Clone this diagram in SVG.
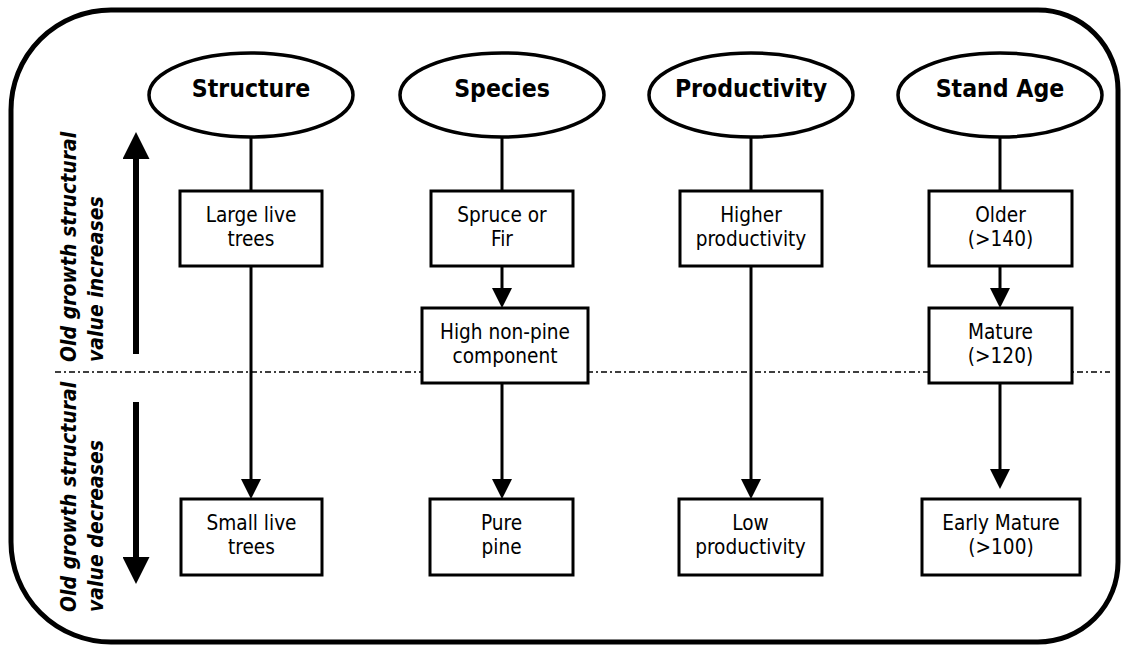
<svg xmlns="http://www.w3.org/2000/svg" width="1123" height="648" viewBox="0 0 1123 648">
<defs>
<style>
.t{font-family:'DejaVu Sans Condensed','DejaVu Sans',sans-serif;fill:#000}
.lab{font-size:24.6px;font-weight:bold;text-anchor:middle}
.box{font-size:20.6px;text-anchor:middle}
.side{font-size:21px;font-weight:bold;font-style:italic}
.ell{fill:#fff;stroke:#000;stroke-width:3.5}
.rb{fill:#fff;stroke:#000;stroke-width:3}
.ln{stroke:#000;stroke-width:3;fill:none}
.big{stroke:#000;stroke-width:6;fill:none}
</style>
<marker id="ah" markerUnits="userSpaceOnUse" viewBox="0 0 20 20" markerWidth="20" markerHeight="20" refX="1" refY="10" orient="auto">
<path d="M0,0 L20,10 L0,20 Z" fill="#000"/>
</marker>
<marker id="bh" markerUnits="userSpaceOnUse" viewBox="0 0 27 27" markerWidth="27" markerHeight="27" refX="1" refY="13.5" orient="auto">
<path d="M0,0 L27,13.5 L0,27 Z" fill="#000"/>
</marker>
</defs>
<rect width="1123" height="648" fill="#fff"/>
<path d="M111,10 H1038 A80,80 0 0 1 1118,90 V562 A80,80 0 0 1 1038,642 H111 A100,100 0 0 1 11,542 V110 A100,100 0 0 1 111,10 Z" fill="none" stroke="#000" stroke-width="5"/>

<g id="divider">
<line x1="55" y1="372" x2="1110" y2="372" stroke="#000" stroke-width="1.5" stroke-dasharray="6,3,2,3"/>
</g>

<g id="connectors">
<line class="ln" x1="251" y1="137" x2="251" y2="191"/>
<line class="ln" x1="502" y1="137" x2="502" y2="191"/>
<line class="ln" x1="751" y1="137" x2="751" y2="191"/>
<line class="ln" x1="1000" y1="137" x2="1000" y2="191"/>
<line class="ln" x1="251" y1="266" x2="251" y2="480" marker-end="url(#ah)"/>
<line class="ln" x1="502" y1="266" x2="502" y2="289" marker-end="url(#ah)"/>
<line class="ln" x1="502" y1="383" x2="502" y2="480" marker-end="url(#ah)"/>
<line class="ln" x1="751" y1="266" x2="751" y2="480" marker-end="url(#ah)"/>
<line class="ln" x1="1000" y1="266" x2="1000" y2="289" marker-end="url(#ah)"/>
<line class="ln" x1="1000" y1="383" x2="1000" y2="470" marker-end="url(#ah)"/>
<line class="big" x1="136" y1="354" x2="136" y2="158" marker-end="url(#bh)"/>
<line class="big" x1="136" y1="402" x2="136" y2="558" marker-end="url(#bh)"/>
</g>

<g id="structure"><ellipse class="ell" cx="251" cy="95" rx="102" ry="42"/><text class="t lab" x="251" y="97">Structure</text></g>
<g id="species"><ellipse class="ell" cx="502" cy="95" rx="102" ry="42"/><text class="t lab" x="502" y="97">Species</text></g>
<g id="productivity"><ellipse class="ell" cx="751" cy="95" rx="102" ry="42"/><text class="t lab" x="751" y="97">Productivity</text></g>
<g id="standage"><ellipse class="ell" cx="1000" cy="95" rx="102" ry="42"/><text class="t lab" x="1000" y="97">Stand Age</text></g>

<g id="large-live"><rect class="rb" x="180" y="191" width="142" height="75"/><text class="t box" x="251" y="222">Large live</text><text class="t box" x="251" y="246">trees</text></g>
<g id="spruce"><rect class="rb" x="431" y="191" width="142" height="75"/><text class="t box" x="502" y="222">Spruce or</text><text class="t box" x="502" y="246">Fir</text></g>
<g id="higher-prod"><rect class="rb" x="680" y="191" width="142" height="75"/><text class="t box" x="751" y="222">Higher</text><text class="t box" x="751" y="246">productivity</text></g>
<g id="older"><rect class="rb" x="929" y="191" width="143" height="75"/><text class="t box" x="1000.5" y="222">Older</text><text class="t box" x="1000.5" y="246">(&gt;140)</text></g>

<g id="high-nonpine"><rect class="rb" x="422" y="308" width="166" height="75"/><text class="t box" x="505" y="339">High non-pine</text><text class="t box" x="505" y="363">component</text></g>
<g id="mature"><rect class="rb" x="929" y="308" width="143" height="75"/><text class="t box" x="1000.5" y="339">Mature</text><text class="t box" x="1000.5" y="363">(&gt;120)</text></g>

<g id="small-live"><rect class="rb" x="181" y="499" width="141" height="76"/><text class="t box" x="251.5" y="530">Small live</text><text class="t box" x="251.5" y="554">trees</text></g>
<g id="pure-pine"><rect class="rb" x="430" y="499" width="143" height="76"/><text class="t box" x="501.5" y="530">Pure</text><text class="t box" x="501.5" y="554">pine</text></g>
<g id="low-prod"><rect class="rb" x="679" y="499" width="143" height="76"/><text class="t box" x="750.5" y="530">Low</text><text class="t box" x="750.5" y="554">productivity</text></g>
<g id="early-mature"><rect class="rb" x="922" y="499" width="158" height="76"/><text class="t box" x="1001" y="530">Early Mature</text><text class="t box" x="1001" y="554">(&gt;100)</text></g>

<g id="side-labels">
<text class="t side" transform="translate(76,362) rotate(-90)">Old growth structural</text>
<text class="t side" transform="translate(103,362) rotate(-90)">value increases</text>
<text class="t side" transform="translate(76,612) rotate(-90)">Old growth structural</text>
<text class="t side" transform="translate(103,612) rotate(-90)">value decreases</text>
</g>
</svg>
